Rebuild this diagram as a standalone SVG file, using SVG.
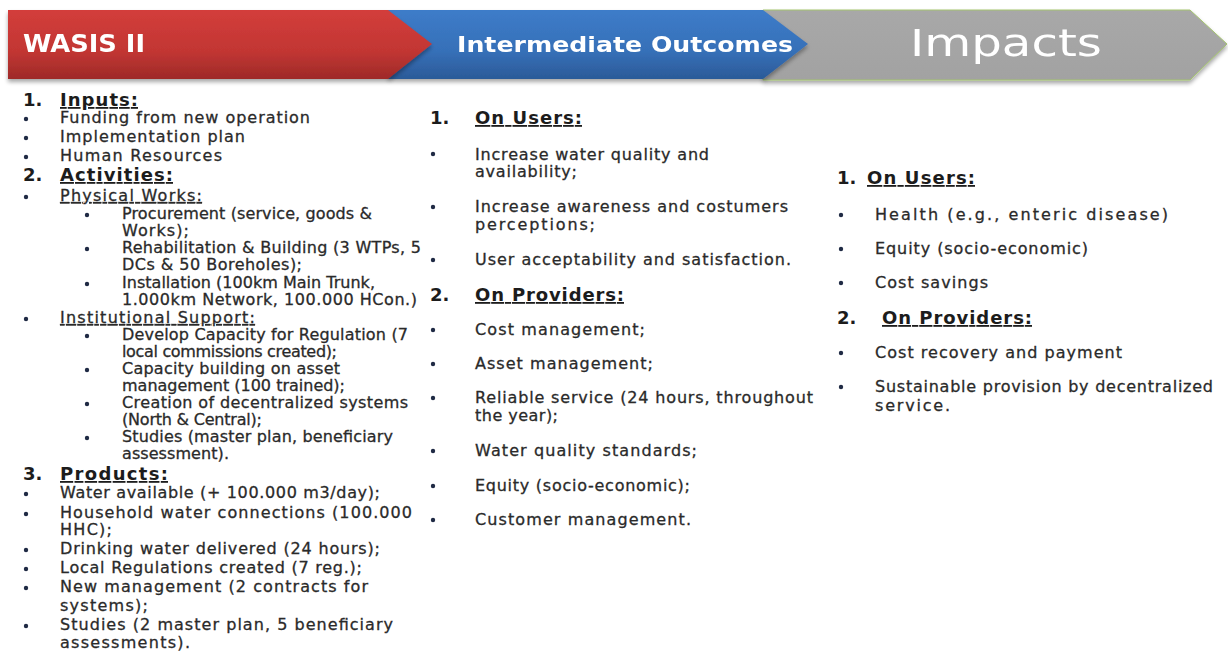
<svg xmlns="http://www.w3.org/2000/svg" width="1228" height="652" viewBox="0 0 1228 652">
<style>
.t{font-family:"DejaVu Sans",sans-serif;font-size:16px;fill:#2a2a2a;stroke:#2a2a2a;stroke-width:0.3}
.h{font-family:"DejaVu Sans",sans-serif;font-size:18px;font-weight:bold;fill:#1c1c1c}
.u{text-decoration:underline}
.b{fill:#1f2a44}
.hd{font-family:"DejaVu Sans",sans-serif;fill:#ffffff}
</style>
<defs>
<linearGradient id="gr" x1="0" y1="0" x2="0" y2="1"><stop offset="0" stop-color="#d33d3b"/><stop offset="0.6" stop-color="#c23633"/><stop offset="1" stop-color="#9e2a28"/></linearGradient>
<linearGradient id="gb" x1="0" y1="0" x2="0" y2="1"><stop offset="0" stop-color="#3d7cc9"/><stop offset="0.6" stop-color="#3670b8"/><stop offset="1" stop-color="#2b5a98"/></linearGradient>
<linearGradient id="gg" x1="0" y1="0" x2="0" y2="1"><stop offset="0" stop-color="#a8a8a8"/><stop offset="1" stop-color="#a2a2a2"/></linearGradient>
<filter id="sh" x="-5%" y="-20%" width="110%" height="150%"><feGaussianBlur in="SourceAlpha" stdDeviation="2"/><feOffset dy="3"/><feComponentTransfer><feFuncA type="linear" slope="0.35"/></feComponentTransfer><feMerge><feMergeNode/><feMergeNode in="SourceGraphic"/></feMerge></filter>
</defs>
<rect width="1228" height="652" fill="#ffffff"/>

<g id="header">
<g id="band-impacts" filter="url(#sh)">
<polygon points="763,10 1190,10 1227,44 1190,80 763,80" fill="url(#gg)" stroke="#a4c46e" stroke-width="1"/>
<text class="hd" x="910" y="56" font-size="38" textLength="192" lengthAdjust="spacingAndGlyphs">Impacts</text>
</g>
<g id="band-outcomes" filter="url(#sh)">
<polygon points="388,10 763,10 808,44 763,79 388,79" fill="url(#gb)"/>
<text class="hd" x="457" y="52" font-size="21" font-weight="bold" textLength="336" lengthAdjust="spacingAndGlyphs">Intermediate Outcomes</text>
</g>
<g id="band-wasis" filter="url(#sh)">
<polygon points="8,10 388,10 432,44 388,79 8,79" fill="url(#gr)"/>
<text class="hd" x="23" y="52" font-size="24" font-weight="bold" textLength="122" lengthAdjust="spacingAndGlyphs">WASIS II</text>
</g>
</g>

<g id="col-wasis">
<text class="h" x="23" y="106">1.</text>
<text class="h u" x="60" y="106" textLength="78">Inputs:</text>
<circle class="b" cx="26" cy="119" r="2.2"/><text class="t" x="60" y="123" textLength="250">Funding from new operation</text>
<circle class="b" cx="26" cy="138" r="2.2"/><text class="t" x="60" y="142" textLength="185">Implementation plan</text>
<circle class="b" cx="26" cy="157" r="2.2"/><text class="t" x="60" y="161" textLength="162">Human Resources</text>
<text class="h" x="23" y="181">2.</text>
<text class="h u" x="60" y="181" textLength="113">Activities:</text>
<circle class="b" cx="26" cy="197" r="2.2"/><text class="t u" x="60" y="201" textLength="142">Physical Works:</text>
<circle class="b" cx="87" cy="215" r="2.2"/><text class="t" x="122" y="219" textLength="250">Procurement (service, goods &amp;</text>
<text class="t" x="122" y="236" textLength="67">Works);</text>
<circle class="b" cx="87" cy="249" r="2.2"/><text class="t" x="122" y="253" textLength="299">Rehabilitation &amp; Building (3 WTPs, 5</text>
<text class="t" x="122" y="270" textLength="180">DCs &amp; 50 Boreholes);</text>
<circle class="b" cx="87" cy="284" r="2.2"/><text class="t" x="122" y="288" textLength="253">Installation (100km Main Trunk,</text>
<text class="t" x="122" y="305" textLength="295">1.000km Network, 100.000 HCon.)</text>
<circle class="b" cx="26" cy="319" r="2.2"/><text class="t u" x="60" y="323" textLength="195">Institutional Support:</text>
<circle class="b" cx="87" cy="336" r="2.2"/><text class="t" x="122" y="340" textLength="286">Develop Capacity for Regulation (7</text>
<text class="t" x="122" y="357" textLength="215">local commissions created);</text>
<circle class="b" cx="87" cy="370" r="2.2"/><text class="t" x="122" y="374" textLength="218">Capacity building on asset</text>
<text class="t" x="122" y="391" textLength="223">management (100 trained);</text>
<circle class="b" cx="87" cy="404" r="2.2"/><text class="t" x="122" y="408" textLength="286">Creation of  decentralized systems</text>
<text class="t" x="122" y="425" textLength="140">(North &amp; Central);</text>
<circle class="b" cx="87" cy="438" r="2.2"/><text class="t" x="122" y="442" textLength="271">Studies (master plan, beneficiary</text>
<text class="t" x="122" y="459" textLength="107">assessment).</text>
<text class="h" x="23" y="480">3.</text>
<text class="h u" x="60" y="480" textLength="108">Products:</text>
<circle class="b" cx="26" cy="494" r="2.2"/><text class="t" x="60" y="498" textLength="320">Water available (+ 100.000 m3/day);</text>
<circle class="b" cx="26" cy="514" r="2.2"/><text class="t" x="60" y="518" textLength="352">Household water connections (100.000</text>
<text class="t" x="60" y="535" textLength="52">HHC);</text>
<circle class="b" cx="26" cy="550" r="2.2"/><text class="t" x="60" y="554" textLength="320">Drinking water delivered (24 hours);</text>
<circle class="b" cx="26" cy="569" r="2.2"/><text class="t" x="60" y="573" textLength="302">Local Regulations created (7 reg.);</text>
<circle class="b" cx="26" cy="588" r="2.2"/><text class="t" x="60" y="592" textLength="308">New management (2 contracts for</text>
<text class="t" x="60" y="611" textLength="88">systems);</text>
<circle class="b" cx="26" cy="626" r="2.2"/><text class="t" x="60" y="630" textLength="333">Studies (2  master plan, 5 beneficiary</text>
<text class="t" x="60" y="648" textLength="130">assessments).</text>
</g>

<g id="col-outcomes">
<text class="h" x="430" y="124">1.</text>
<text class="h u" x="475" y="124" textLength="107">On Users:</text>
<circle class="b" cx="433" cy="154" r="2.2"/><text class="t" x="475" y="160" textLength="234">Increase water quality and</text>
<text class="t" x="475" y="177" textLength="102">availability;</text>
<circle class="b" cx="433" cy="207" r="2.2"/><text class="t" x="475" y="212" textLength="313">Increase awareness and costumers</text>
<text class="t" x="475" y="230" textLength="120">perceptions;</text>
<circle class="b" cx="433" cy="260" r="2.2"/><text class="t" x="475" y="265" textLength="316">User acceptability and satisfaction.</text>
<text class="h" x="430" y="301">2.</text>
<text class="h u" x="475" y="301" textLength="149">On Providers:</text>
<circle class="b" cx="433" cy="330" r="2.2"/><text class="t" x="475" y="335" textLength="170">Cost management;</text>
<circle class="b" cx="433" cy="364" r="2.2"/><text class="t" x="475" y="369" textLength="178">Asset management;</text>
<circle class="b" cx="433" cy="398" r="2.2"/><text class="t" x="475" y="403" textLength="338">Reliable service (24 hours, throughout</text>
<text class="t" x="475" y="421" textLength="83">the year);</text>
<circle class="b" cx="433" cy="451" r="2.2"/><text class="t" x="475" y="456" textLength="222">Water quality standards;</text>
<circle class="b" cx="433" cy="486" r="2.2"/><text class="t" x="475" y="491" textLength="215">Equity (socio-economic);</text>
<circle class="b" cx="433" cy="520" r="2.2"/><text class="t" x="475" y="525" textLength="216">Customer management.</text>
</g>

<g id="col-impacts">
<text class="h" x="837" y="184">1.</text>
<text class="h u" x="867" y="184" textLength="108">On Users:</text>
<circle class="b" cx="841" cy="215" r="2.2"/><text class="t" x="875" y="220" textLength="293">Health (e.g., enteric disease)</text>
<circle class="b" cx="841" cy="249" r="2.2"/><text class="t" x="875" y="254" textLength="213">Equity (socio-economic)</text>
<circle class="b" cx="841" cy="283" r="2.2"/><text class="t" x="875" y="288" textLength="113">Cost savings</text>
<text class="h" x="837" y="324">2.</text>
<text class="h u" x="882" y="324" textLength="150">On Providers:</text>
<circle class="b" cx="841" cy="353" r="2.2"/><text class="t" x="875" y="358" textLength="247">Cost recovery and payment</text>
<circle class="b" cx="841" cy="387" r="2.2"/><text class="t" x="875" y="392" textLength="338">Sustainable provision by decentralized</text>
<text class="t" x="875" y="411" textLength="75">service.</text>
</g>

<g id="connectors"/>
</svg>
